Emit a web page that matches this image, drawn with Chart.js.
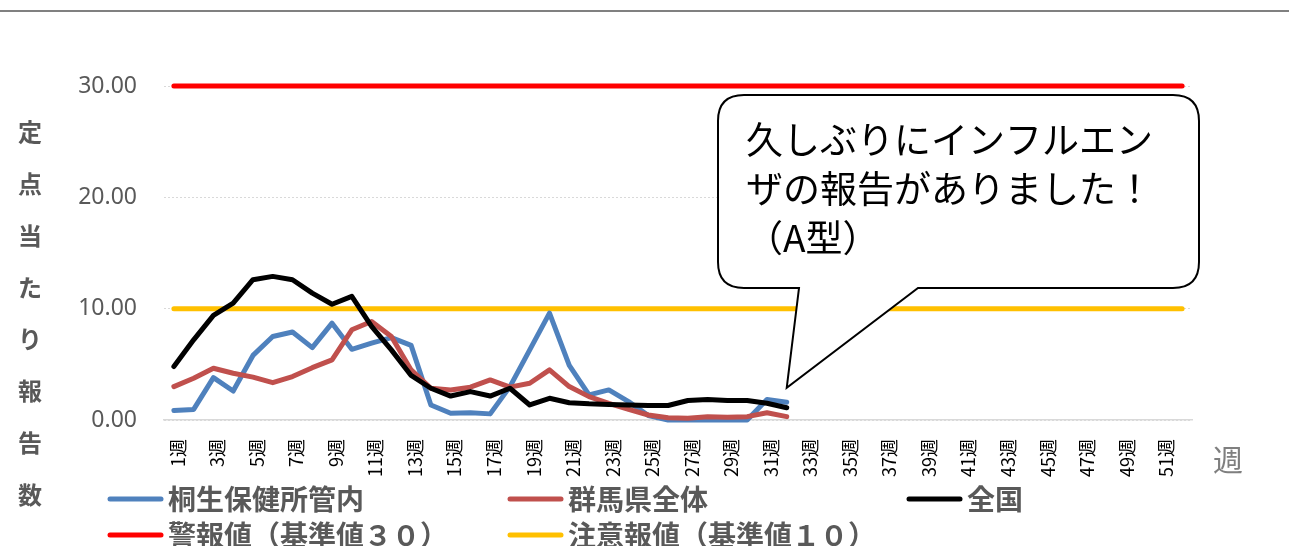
<html>
<head>
<meta charset="utf-8">
<script src="https://cdn.jsdelivr.net/npm/chart.js@4.4.0/dist/chart.umd.min.js"></script>
<style>
  body { margin:0; background:#fff; }
  #wrap { width:1289px; height:546px; position:relative; }
</style>
</head>
<body>
<div id="wrap"><canvas id="myChart"></canvas></div>
<script>
// categories (weeks)
var weeks = ['1週','2週','3週','4週','5週','6週','7週','8週','9週','10週',
  '11週','12週','13週','14週','15週','16週','17週','18週','19週','20週',
  '21週','22週','23週','24週','25週','26週','27週','28週','29週','30週',
  '31週','32週','33週','34週','35週','36週','37週','38週','39週','40週',
  '41週','42週','43週','44週','45週','46週','47週','48週','49週','50週',
  '51週','52週'];

// series values (weeks 1-32 reported)
var kiryu  = [0.85,0.95,3.8,2.6,5.8,7.5,7.9,6.5,8.7,6.35,6.9,7.4,6.7,1.35,0.6,0.66,0.55,3.0,6.3,9.6,4.9,2.25,2.7,1.65,0.4,0,0,0,0,0,1.85,1.6];
var gunma  = [3.0,3.75,4.65,4.2,3.85,3.35,3.9,4.7,5.4,8.1,8.85,7.5,4.5,2.85,2.7,2.95,3.6,2.95,3.3,4.5,3.0,2.1,1.5,0.96,0.45,0.2,0.15,0.3,0.25,0.3,0.65,0.3];
var zenkoku = [4.8,7.2,9.4,10.5,12.6,12.9,12.6,11.4,10.4,11.1,8.4,6.3,4.0,2.85,2.15,2.55,2.15,2.85,1.35,1.95,1.55,1.45,1.4,1.35,1.3,1.3,1.75,1.85,1.75,1.75,1.5,1.1];
var keiho  = [30,30,30,30,30,30,30,30,30,30,30,30,30,30,30,30,30,30,30,30,30,30,30,30,30,30,
              30,30,30,30,30,30,30,30,30,30,30,30,30,30,30,30,30,30,30,30,30,30,30,30,30,30];
var chuiho = [10,10,10,10,10,10,10,10,10,10,10,10,10,10,10,10,10,10,10,10,10,10,10,10,10,10,
              10,10,10,10,10,10,10,10,10,10,10,10,10,10,10,10,10,10,10,10,10,10,10,10,10,10];

// axis
var yTicks = [0, 10, 20, 30];
var yTitle = '定点当たり報告数';
var xTitle = '週';
var note = ['久しぶりにインフルエン', 'ザの報告がありました！', '（A型）'];

var JP = '"Noto Sans CJK JP", "Noto Sans", sans-serif';
Chart.defaults.font.family = JP;

function line(label, data, color, order) {
  return {
    label: label, data: data, borderColor: color, backgroundColor: color,
    borderWidth: 5, pointRadius: 0, tension: 0, clip: false, order: order,
    borderCapStyle: 'round', borderJoinStyle: 'round', spanGaps: false
  };
}

// extras: top rule, vertical y title, x title, legend, callout
var extras = {
  id: 'extras',
  afterDraw: function(chart) {
    var ctx = chart.ctx;
    var xs = chart.scales.x, ys = chart.scales.y;
    ctx.save();

    // top rule
    ctx.strokeStyle = '#808080';
    ctx.lineWidth = 2;
    ctx.beginPath(); ctx.moveTo(0, 11); ctx.lineTo(1289, 11); ctx.stroke();

    // y title, one char per row
    ctx.fillStyle = '#595959';
    ctx.font = 'bold 24px ' + JP;
    ctx.textAlign = 'center';
    ctx.textBaseline = 'middle';
    for (var i = 0; i < yTitle.length; i++) {
      ctx.fillText(yTitle[i], 30, 132 + i * 51.8);
    }

    // x title
    ctx.fillStyle = '#7f7f7f';
    ctx.font = '30px ' + JP;
    ctx.fillText(xTitle, 1228, 460);

    // legend
    var items = [[0,108,499],[1,508,499],[2,907,499],[3,108,535],[4,508,535]];
    ctx.textAlign = 'left';
    ctx.font = 'bold 28px ' + JP;
    ctx.lineCap = 'round';
    items.forEach(function(it) {
      var ds = chart.data.datasets[it[0]];
      ctx.strokeStyle = ds.borderColor;
      ctx.lineWidth = 5;
      ctx.beginPath(); ctx.moveTo(it[1] + 2, it[2]); ctx.lineTo(it[1] + 53, it[2]); ctx.stroke();
      ctx.fillStyle = '#595959';
      ctx.fillText(ds.label, it[1] + 60, it[2]);
    });

    // callout box pointing at last reported week
    var L = 718, R = 1199, T = 95, B = 288, r = 26;
    var tipX = xs.getPixelForValue(31), tipY = ys.getPixelForValue(2.9);
    ctx.beginPath();
    ctx.moveTo(L + r, T);
    ctx.lineTo(R - r, T);
    ctx.quadraticCurveTo(R, T, R, T + r);
    ctx.lineTo(R, B - r);
    ctx.quadraticCurveTo(R, B, R - r, B);
    ctx.lineTo(918, B);
    ctx.lineTo(tipX, tipY);
    ctx.lineTo(799, B);
    ctx.lineTo(L + r, B);
    ctx.quadraticCurveTo(L, B, L, B - r);
    ctx.lineTo(L, T + r);
    ctx.quadraticCurveTo(L, T, L + r, T);
    ctx.closePath();
    ctx.fillStyle = '#fff';
    ctx.fill();
    ctx.strokeStyle = '#000';
    ctx.lineWidth = 2;
    ctx.lineJoin = 'miter';
    ctx.stroke();

    ctx.fillStyle = '#000';
    ctx.font = '37px ' + JP;
    ctx.textBaseline = 'middle';
    note.forEach(function(t, k) { ctx.fillText(t, 746, 140 + k * 49); });
    ctx.restore();
  }
};

var ctx = document.getElementById('myChart').getContext('2d');
var chart = new Chart(ctx, {
  type: 'line',
  data: {
    labels: weeks,
    datasets: [
      line('桐生保健所管内', kiryu, '#4F81BD', 2),
      line('群馬県全体', gunma, '#C0504D', 1),
      line('全国', zenkoku, '#000000', 0),
      line('警報値（基準値３０）', keiho, '#FF0000', 3),
      line('注意報値（基準値１０）', chuiho, '#FFC000', 4)
    ]
  },
  options: {
    responsive: true,
    maintainAspectRatio: false,
    animation: false,
    layout: { padding: { left: 0, right: 97, top: 86, bottom: 0 } },
    plugins: { legend: { display: false }, tooltip: { enabled: false } },
    scales: {
      x: {
        offset: true,
        grid: { display: false, drawTicks: false },
        border: { display: true, color: '#d9d9d9', width: 1.5 },
        ticks: {
          autoSkip: false, maxRotation: 90, minRotation: 90, padding: 19, labelOffset: 4,
          color: '#000', font: { size: 18, family: JP },
          callback: function(v, i) { return i % 2 === 0 ? this.getLabelForValue(v) : ''; }
        },
        afterFit: function(s) { s.height = 126; }
      },
      y: {
        min: 0, max: 30,
        afterBuildTicks: function(s) { s.ticks = yTicks.map(function(v) { return { value: v }; }); },
        grid: { color: '#d9d9d9', drawTicks: false, lineWidth: 1 },
        border: { display: false, dash: [2, 2] },
        ticks: {
          padding: 27, color: '#595959',
          font: { size: 23, family: '"Noto Sans", sans-serif' },
          callback: function(v) { return v.toFixed(2); }
        },
        afterFit: function(s) { s.width = 164; }
      }
    }
  },
  plugins: [extras]
});
</script>
</body>
</html>
